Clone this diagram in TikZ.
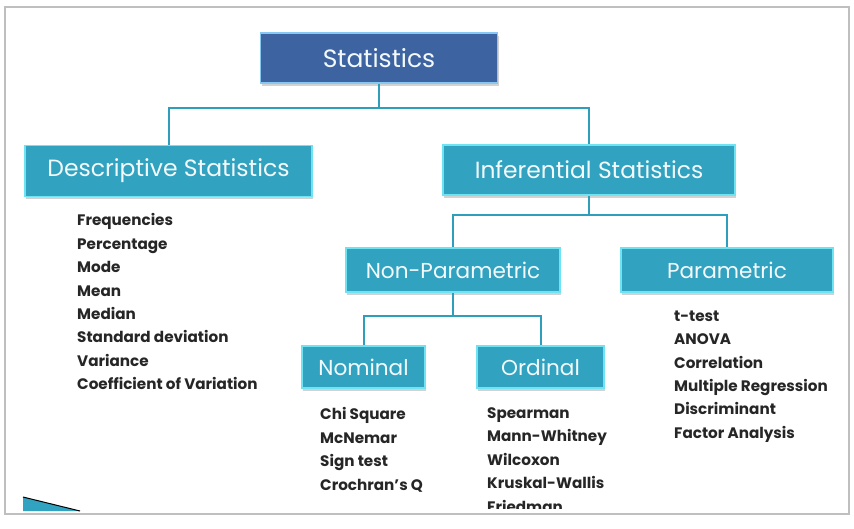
\documentclass[tikz,border=0pt]{standalone}
\usepackage{fontspec}
\setmainfont{Poppins}
\usetikzlibrary{positioning,shadows}

\definecolor{boxteal}{HTML}{31A3C1}
\definecolor{boxrim}{HTML}{6FE3F2}
\definecolor{topblue}{HTML}{3D64A1}
\definecolor{toprim}{HTML}{86C8F2}
\definecolor{linkteal}{HTML}{2F9EBA}

\tikzset{
  catbox/.style={draw=boxrim, line width=1.6pt, fill=boxteal, text=white!94!boxteal,
    inner sep=0pt, drop shadow={opacity=0.35, shadow xshift=1pt, shadow yshift=-2.5pt}},
  topbox/.style={catbox, draw=toprim, fill=topblue},
  link/.style={draw=linkteal, line width=2pt},
  itemlist/.style={align=left, anchor=north west, inner sep=0pt,
    font=\bfseries\fontsize{15.2}{23.4}\selectfont, text=black!85}
}

\begin{document}
\begin{tikzpicture}[x=1pt,y=-1pt]
\useasboundingbox (0,0) rectangle (854,528);
\fill[white] (0,0) rectangle (854,528);
\draw[black!25, line width=2.5pt] (5,7) rectangle (849,514);

\node[topbox, minimum width=237pt, minimum height=50pt, font=\fontsize{25}{28}\selectfont] (stat) at (379,58) {Statistics};
\node[catbox, minimum width=287pt, minimum height=51pt, font=\fontsize{23.5}{26}\selectfont] (desc) at (168.5,171) {Descriptive Statistics};
\node[catbox, minimum width=292pt, minimum height=50pt, font=\fontsize{23.4}{26}\selectfont] (inf) at (589,170) {Inferential Statistics};
\node[catbox, minimum width=214pt, minimum height=44pt, font=\fontsize{21.6}{24}\selectfont] (nonpar) at (453,270) {Non-Parametric};
\node[catbox, minimum width=212pt, minimum height=44pt, font=\fontsize{21.6}{24}\selectfont] (par) at (727,270) {Parametric};
\node[catbox, minimum width=123pt, minimum height=42pt, font=\fontsize{21.6}{24}\selectfont] (nom) at (363.5,367) {Nominal};
\node[catbox, minimum width=127pt, minimum height=42pt, font=\fontsize{21.6}{24}\selectfont] (ord) at (540.5,367) {Ordinal};

\coordinate (j1) at (379,108);
\coordinate (j2) at (589,215);
\coordinate (j3) at (453,316);

\path[link] (stat.south) -- (j1) -| (desc.north);
\path[link] (j1) -| (inf.north);
\path[link] (inf.south) -- (j2) -| (nonpar.north);
\path[link] (j2) -| (par.north);
\path[link] (nonpar.south) -- (j3) -| (nom.north);
\path[link] (j3) -| (ord.north);

\node[itemlist] (desclist) at (77,213.5) {Frequencies\\Percentage\\Mode\\Mean\\Median\\Standard deviation\\Variance\\Coefficient of Variation};
\node[itemlist] (parlist) at (674,310.5) {t-test\\ANOVA\\Correlation\\Multiple Regression\\Discriminant\\Factor Analysis};
\node[itemlist] (nomlist) at (320,407.5) {Chi Square\\McNemar\\Sign test\\Crochran's Q};
\begin{scope}
  \clip (0,0) rectangle (854,508);
  \node[itemlist] (ordlist) at (487,407.5) {Spearman\\Mann-Whitney\\Wilcoxon\\Kruskal-Wallis\\Friedman};
\end{scope}

% corner wedge
\fill[boxteal] (23,497) -- (80,511) -- (23,511) -- cycle;
\draw[black, line width=1pt] (23,497) -- (80,511);
\end{tikzpicture}
\end{document}
